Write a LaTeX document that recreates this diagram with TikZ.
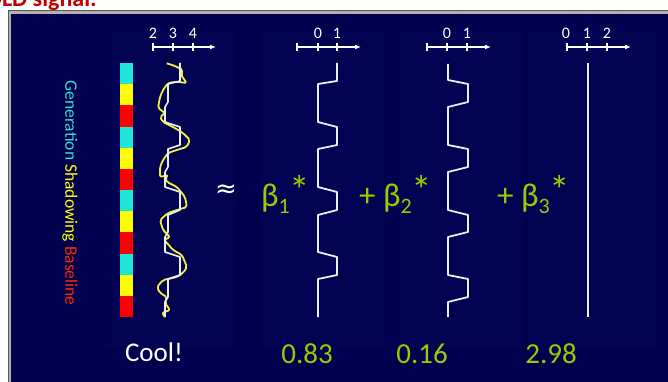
\documentclass[tikz,border=0pt]{standalone}
\usepackage{fontspec}
\setmainfont{Carlito}
\newfontfamily\symfont{DejaVu Sans}
\usetikzlibrary{arrows.meta}
\definecolor{navy}{HTML}{00004E}
\definecolor{panel}{HTML}{020253}
\definecolor{lime}{HTML}{99CC00}
\definecolor{gencol}{HTML}{2EE0D8}
\definecolor{shadcol}{HTML}{FFFF00}
\definecolor{basecol}{HTML}{FF2A00}
\definecolor{barred}{HTML}{FF0000}
\definecolor{barcyan}{HTML}{22E6DC}
\definecolor{titlered}{HTML}{C00000}
\definecolor{wline}{HTML}{EDEDF5}
\definecolor{yline}{HTML}{F2F03A}
\tikzset{
  regline/.style={draw=wline, line width=1.8pt, line join=round},
  axisline/.style={draw=white, line width=1.6pt, -{Latex[length=6pt,width=5pt]}},
  tickmark/.style={draw=white, line width=2pt},
  ticklabel/.style={text=white, font=\fontsize{16}{16}\selectfont, inner sep=0pt},
  beta/.style={text=lime, font=\fontsize{33}{33}\selectfont, inner sep=0pt, anchor=base west},
  weight/.style={text=lime, font=\fontsize{29}{29}\selectfont, inner sep=0pt, anchor=base},
  panelbox/.style={fill=panel, draw=none}
}
\newcommand{\bsub}[1]{\raisebox{-0.22em}{\fontsize{22}{22}\selectfont #1}}
\newcommand{\bstar}{\raisebox{1.5pt}{\fontsize{41}{41}\selectfont *}}
\begin{document}
\begin{tikzpicture}[x=1pt,y=-1pt]
\useasboundingbox (0,0) rectangle (668,382);
\clip (0,0) rectangle (668,382);
\fill[white] (0,0) rectangle (668,382);
% title (cut off at top, as in the reference)
\node[anchor=base east, text=titlered, font=\fontsize{24}{24}\selectfont\bfseries, inner sep=0pt] (title) at (97,7) {BOLD signal:};
% frame
\fill[gray!70!black] (8,10) rectangle (668,382);
\fill[gray!60] (9,11) rectangle (668,382);
\fill[navy] (11,14) rectangle (668,382);
% faint panels
\fill[panelbox] (105,30) rectangle (237,348);
\fill[panelbox] (260,30) rectangle (390,348);
\fill[panelbox] (394,30) rectangle (524,348);
\fill[panelbox] (528,30) rectangle (658,348);

% vertical legend
\node[rotate=-90, inner sep=0pt, font=\fontsize{17.5}{17.5}\selectfont] (legend) at (70,193)
  {\textcolor{gencol}{Generation} \textcolor{shadcol}{Shadowing} \textcolor{basecol}{Baseline}};

% colour bar
\foreach \i/\c in {0/barcyan,1/shadcol,2/barred,3/barcyan,4/shadcol,5/barred,6/barcyan,7/shadcol,8/barred,9/barcyan,10/shadcol,11/barred}{
  \fill[\c] (120,{63+\i*21.17}) rectangle (133,{63+(\i+1)*21.17});
}

% signal axis
\coordinate (sa0) at (153,47);
\coordinate (sa1) at (216,47);
\draw[axisline] (sa0) -- (sa1);
\foreach \x/\l in {153/2,173/3,193/4}{
  \draw[tickmark] (\x,43) -- (\x,51);
  \node[ticklabel] (sl\l) at (\x,33) {\l};
}
% yellow noisy data
\draw[yline, line width=1.8pt, line join=round, rounded corners=2pt]
 (166.7,63.3) -- (175,66) -- (183,70) -- (181,75) -- (186.7,83) -- (176.7,81.7) -- (168,83) -- (163,90) -- (160,97) -- (158,108)
 -- (165,113) -- (160,117) -- (163,122) -- (173,127) -- (183,133) -- (190,140) -- (186.7,147) -- (176.7,150)
 -- (168,153) -- (163,160) -- (160,167) -- (160,177) -- (168,175) -- (165,179) -- (167,182) -- (177,187) -- (185,197)
 -- (187,207) -- (177,210) -- (168,213) -- (160,220) -- (163,230) -- (170,237) -- (164,240) -- (167,243)
 -- (173,250) -- (182,255) -- (187,267) -- (183,273) -- (177,277) -- (163,280) -- (157,287)
 -- (160,293) -- (167,297) -- (165,303) -- (170,310) -- (162,313) -- (165,317);
% white model fit
\draw[regline, line width=1.6pt]
 (180,63)--(180,81)--(168,84)--(168,102)--(165,107)--(165,122)--(180,127)--(180,145)--(168,149)
 --(168,167)--(165,172)--(165,187)--(180,192)--(180,210)--(168,215)--(168,232)--(165,237)
 --(165,252)--(180,257)--(180,275)--(168,279)--(168,297)--(165,302)--(165,317);

% approx sign
\node[text=white, font=\symfont\fontsize{26}{26}\selectfont, inner sep=0pt] (approx) at (226,191) {≈};

% regressor 1 axis
\draw[axisline] (297,47) -- (361,47);
\foreach \x in {297,318,337}{
  \draw[tickmark] (\x,43) -- (\x,51);
}
\node[ticklabel] (r1l0) at (318,33) {0};
\node[ticklabel] (r1l1) at (337,33) {1};
\draw[regline] (337,63) -- (337,81) -- (318,84) -- (318,122) -- (337,127) -- (337,145) -- (318,149)
 -- (318,187) -- (337,192) -- (337,210) -- (318,215) -- (318,252) -- (337,257) -- (337,275)
 -- (318,279) -- (318,317);

% regressor 2 axis
\draw[axisline] (427,47) -- (491,47);
\foreach \x in {427,447,467}{
  \draw[tickmark] (\x,43) -- (\x,51);
}
\node[ticklabel] (r2l0) at (447,33) {0};
\node[ticklabel] (r2l1) at (467,33) {1};
\draw[regline] (448,64) -- (448,80) -- (468,84) -- (468,102) -- (448,107) -- (448,145) -- (468,149)
 -- (468,167) -- (448,172) -- (448,210) -- (468,215) -- (468,232) -- (448,237) -- (448,275)
 -- (468,279) -- (468,297) -- (448,302) -- (448,317);

% regressor 3 axis
\draw[axisline] (567,47) -- (631,47);
\foreach \x in {567,587,607}{
  \draw[tickmark] (\x,43) -- (\x,51);
}
\node[ticklabel] (r3l0) at (566,33) {0};
\node[ticklabel] (r3l1) at (587,33) {1};
\node[ticklabel] (r3l2) at (607,33) {2};
\draw[regline] (588,63) -- (588,317);

% betas
\node[beta] (b1) at (261,206) {β\bsub{1}\bstar};
\node[beta] (b2) at (359,206) {+ β\bsub{2}\bstar};
\node[beta] (b3) at (497,206) {+ β\bsub{3}\bstar};

% bottom labels
\node[text=white, font=\fontsize{27}{27}\selectfont, inner sep=0pt, anchor=base] (cool) at (154,361) {Cool!};
\node[weight] (w1) at (307,363) {0.83};
\node[weight] (w2) at (422,363) {0.16};
\node[weight] (w3) at (551,363) {2.98};
\end{tikzpicture}
\end{document}
